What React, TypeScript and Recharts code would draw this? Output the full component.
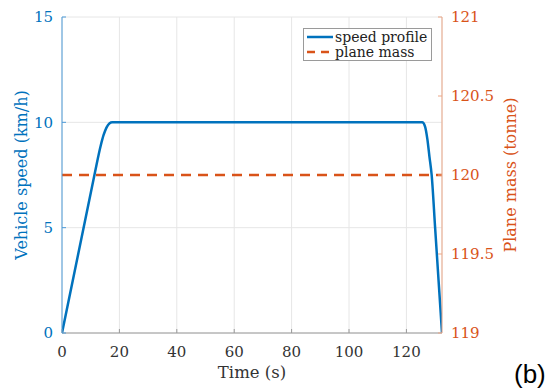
import React from "react";
import { LineChart, Line, XAxis, YAxis, CartesianGrid } from "recharts";

const timeS = [0, 11.3, 13.5, 14.5, 15.5, 16.5, 17.5, 60, 100, 125.5, 126.5, 127.3, 128, 128.8, 130, 131.2, 132.4];
const speedKmh = [0, 7.5, 8.9, 9.4, 9.75, 9.95, 10, 10, 10, 10, 9.8, 9.2, 8.4, 7.5, 5, 2.5, 0];
const massTime = [0, 132.4];
const massTonne = [120, 120];
const xTicks = [0, 20, 40, 60, 80, 100, 120];
const leftTicks = [0, 5, 10, 15];
const rightTicks = [119, 119.5, 120, 120.5, 121];

const speedData = timeS.map((t, i) => ({ t, v: speedKmh[i] }));
const massData = massTime.map((t, i) => ({ t, m: massTonne[i] }));

const BLUE = "#0072BD";
const ORANGE = "#D95319";
const FONT = "DejaVu Serif";

export default function App() {
  return (
    <div style={{ position: "absolute", left: 0, top: 0, width: 558, height: 392, background: "#fff" }}>
      <LineChart width={558} height={392} margin={{ top: 17, right: 0, bottom: 0, left: 0 }}>
        <CartesianGrid stroke="#e6e6e6" yAxisId="left" />
        <XAxis
          dataKey="t"
          type="number"
          domain={[0, 132.4]}
          ticks={xTicks}
          allowDataOverflow
          height={59}
          stroke="#9a9a9a"
          tick={{ fill: "#333", fontFamily: FONT, fontSize: 15 }}
          tickSize={-4}
          tickMargin={17}
          label={{ value: "Time (s)", position: "insideBottom", offset: 14, fill: "#333", fontFamily: FONT, fontSize: 16.5 }}
        />
        <XAxis
          xAxisId="top"
          orientation="top"
          dataKey="t"
          type="number"
          domain={[0, 132.4]}
          ticks={xTicks}
          allowDataOverflow
          height={0}
          axisLine={false}
          stroke="#8a8a8a"
          tick={{ fill: "transparent", fontSize: 1 }}
          tickFormatter={() => ""}
          tickSize={-4}
        />
        <YAxis
          yAxisId="left"
          domain={[0, 15]}
          ticks={leftTicks}
          width={62}
          stroke="#4d9bd8"
          tick={{ fill: BLUE, fontFamily: FONT, fontSize: 15 }}
          tickSize={-4}
          tickMargin={13}
          label={{ value: "Vehicle speed (km/h)", angle: -90, position: "insideLeft", offset: 21, fill: BLUE, fontFamily: FONT, fontSize: 16, style: { textAnchor: "middle" } }}
        />
        <YAxis
          yAxisId="right"
          orientation="right"
          domain={[119, 121]}
          ticks={rightTicks}
          width={116}
          stroke="#eba787"
          tick={{ fill: ORANGE, fontFamily: FONT, fontSize: 15, textAnchor: "start" }}
          tickSize={-4}
          tickMargin={13}
          tickFormatter={(v: number) => String(v)}
          label={{ value: "Plane mass (tonne)", angle: -90, position: "insideRight", offset: 48, fill: ORANGE, fontFamily: FONT, fontSize: 16, style: { textAnchor: "middle" } }}
        />
        <Line
          yAxisId="left"
          data={speedData}
          dataKey="v"
          type="monotone"
          stroke={BLUE}
          strokeWidth={2.5}
          dot={false}
          isAnimationActive={false}
        />
        <Line
          yAxisId="right"
          data={massData}
          dataKey="m"
          type="linear"
          stroke={ORANGE}
          strokeWidth={2.5}
          strokeDasharray="10 7"
          dot={false}
          isAnimationActive={false}
        />
      </LineChart>
      <div
        style={{
          position: "absolute",
          left: 303,
          top: 28,
          width: 129,
          height: 33,
          border: "1px solid #9a9a9a",
          background: "#fff",
          fontFamily: FONT,
          fontSize: 14,
          color: "#222",
          boxSizing: "border-box",
        }}
      >
        <div style={{ position: "absolute", left: 3, top: 0, display: "flex", alignItems: "center", height: 16 }}>
          <svg width={26} height={4}><line x1={0} y1={2} x2={26} y2={2} stroke={BLUE} strokeWidth={2.5} /></svg>
          <span style={{ marginLeft: 2 }}>speed profile</span>
        </div>
        <div style={{ position: "absolute", left: 3, top: 15, display: "flex", alignItems: "center", height: 16 }}>
          <svg width={26} height={4}><line x1={0} y1={2} x2={26} y2={2} stroke={ORANGE} strokeWidth={2.5} strokeDasharray="8 6" /></svg>
          <span style={{ marginLeft: 2 }}>plane mass</span>
        </div>
      </div>
      <div style={{ position: "absolute", left: 514, top: 359, fontFamily: "Liberation Sans", fontSize: 26, color: "#000" }}>(b)</div>
    </div>
  );
}
